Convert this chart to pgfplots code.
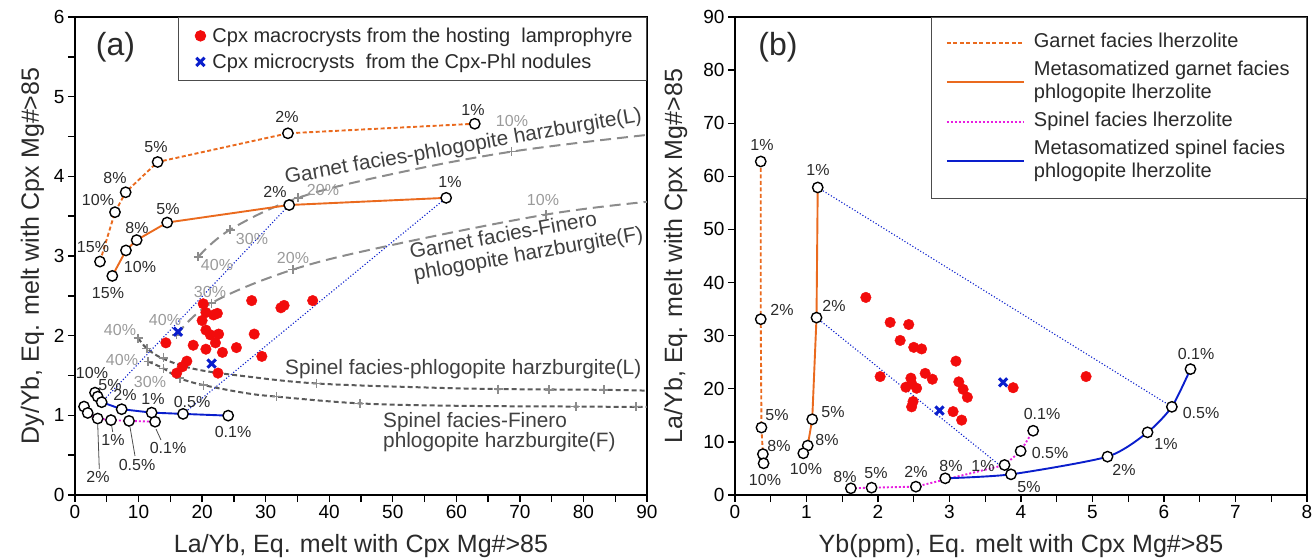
\documentclass[border=0pt]{standalone}
\usepackage{pgfplots}
\pgfplotsset{compat=1.18}
\usepackage{fontspec}
\setmainfont{Liberation Sans}
\definecolor{orng}{HTML}{EA6A1E}
\definecolor{magn}{HTML}{E81EE0}
\definecolor{blu}{HTML}{0A1ECC}
\definecolor{grayA}{HTML}{8C8C8C}
\definecolor{grayB}{HTML}{5A5A5A}
\definecolor{grayT}{HTML}{9A9A9A}
\definecolor{txt}{HTML}{2A2A2A}
\definecolor{red1}{HTML}{F20C0C}
\newcommand\fsT{\fontsize{19bp}{22bp}\selectfont}
\newcommand\fsL{\fontsize{25bp}{28bp}\selectfont}
\newcommand\fsM{\fontsize{20bp}{23bp}\selectfont}
\newcommand\fsC{\fontsize{20.8bp}{23bp}\selectfont}
\newcommand\fsP{\fontsize{16bp}{18bp}\selectfont}
\newcommand\fsH{\fontsize{32bp}{36bp}\selectfont}
\newcommand\tl[1]{\begin{tabular}{@{}l@{}}#1\end{tabular}}
\pgfplotsset{
  oc/.style={mark=*, mark size=5.2bp, mark options={solid, fill=white, draw=black, line width=1.4bp}},
  gp/.style={only marks, mark=+, mark size=4.5bp, mark options={grayA, line width=1.6bp}, forget plot},
  limk/.style={legend image code/.code={\path[draw=none, fill=none] (0bp,-3bp) rectangle (20bp,3bp); \draw[##1] plot coordinates {(10bp,0bp)};}},
  common/.style={scale only axis, width=572bp, height=478bp, anchor=south west,
    tick pos=left, tick align=outside, major tick length=7bp, minor tick length=7bp,
    every tick/.style={black, line width=1.4bp},
    axis line style={black, line width=1.5bp},
    ticklabel style={font=\fsT, text=black},
    /pgf/number format/assume math mode=true,
    label style={font=\fsL, text=txt},
    xlabel style={at={(axis description cs:0.5,0)}, anchor=base, yshift=-57bp},
  },
}
\begin{document}
\begin{tikzpicture}
\useasboundingbox (0,0) rectangle (1312bp,558bp);
% ---------------- panel (a)
\begin{axis}[common, at={(75bp,63bp)},
  xmin=0,xmax=90,ymin=0,ymax=6,
  xtick={0,10,...,90}, minor xtick={5,15,...,85},
  ytick={0,1,...,6}, minor ytick={0.5,1.5,...,5.5},
  xlabel={La/Yb, Eq. melt with Cpx Mg\#>85},
  ylabel={Dy/Yb, Eq. melt with Cpx Mg\#>85},
  ylabel style={at={(axis description cs:-0.063,0.5)}, anchor=base},
  legend style={at={(1,1)}, anchor=north east, draw=black!70, line width=0.8bp,
    font=\fsM, text=txt, inner xsep=12bp, inner ysep=8.5bp, row sep=6bp, cells={anchor=west}},
  legend cell align=left,
]
% gray model curves
\addplot[grayA, line width=2bp, dash pattern=on 11bp off 6bp, smooth, tension=0.6, forget plot] coordinates {(19.4,2.99) (24.4,3.33) (35.1,3.73) (50,4.03) (68.7,4.31) (90,4.52)};
\addplot[gp] coordinates {(19.4,2.99) (24.4,3.33) (35.1,3.73) (68.7,4.31)};
\addplot[grayA, line width=2bp, dash pattern=on 11bp off 6bp, smooth, tension=0.6, forget plot] coordinates {(16.0,2.01) (21.5,2.41) (34.3,2.83) (50,3.14) (74.1,3.52) (90,3.68)};
\addplot[gp] coordinates {(16.0,2.01) (21.5,2.41) (34.3,2.83) (74.1,3.52)};
\addplot[grayB, line width=2bp, dash pattern=on 5bp off 3bp, smooth, tension=0.6, forget plot] coordinates {(9.95,1.97) (11.3,1.84) (13.9,1.71) (18.9,1.58) (26.8,1.49) (38,1.40) (55,1.35) (66.6,1.33) (83.2,1.32) (90,1.31)};
\addplot[gp] coordinates {(9.95,1.97) (11.3,1.84) (13.9,1.72) (38,1.40) (66.6,1.33) (74.6,1.32) (83.2,1.32)};
\addplot[grayB, line width=2bp, dash pattern=on 5bp off 3bp, smooth, tension=0.6, forget plot] coordinates {(11.5,1.675) (13.9,1.59) (16.5,1.465) (20.2,1.38) (26.8,1.28) (31.7,1.235) (44.8,1.15) (60,1.12) (78.8,1.11) (90,1.105)};
\addplot[gp] coordinates {(11.5,1.675) (13.9,1.59) (16.5,1.465) (20.2,1.38) (31.7,1.235) (44.8,1.15) (78.8,1.11) (88.3,1.11)};
% mixing lines
\addplot[blu, line width=1.1bp, dotted, forget plot] coordinates {(4.2,1.165) (33.7,3.64)};
\addplot[blu, line width=1.1bp, dotted, forget plot] coordinates {(17.0,1.018) (58.4,3.73)};
% melting curves
\addplot[orng, line width=1.9bp, dash pattern=on 4bp off 2.5bp, oc, forget plot] coordinates {(3.93,2.93) (6.29,3.55) (7.97,3.80) (13.0,4.18) (33.5,4.54) (62.9,4.66)};
\addplot[orng, line width=1.9bp, oc, forget plot] coordinates {(5.87,2.75) (8.02,3.07) (9.7,3.20) (14.5,3.42) (33.7,3.64) (58.4,3.73)};
\addplot[magn, line width=1.9bp, dash pattern=on 2bp off 2bp, oc, forget plot] coordinates {(1.42,1.11) (2.0,1.03) (3.57,0.96) (5.66,0.94) (8.5,0.93) (12.6,0.92)};
\addplot[blu, line width=1.9bp, oc, forget plot] coordinates {(3.15,1.285) (3.57,1.235) (4.2,1.165) (7.34,1.077) (12.06,1.034) (17.0,1.018) (24.1,0.996)};
% samples
\addplot[only marks, mark=*, mark size=5.3bp, color=red1, limk] coordinates {
(20.18,2.40) (27.8,2.44) (32.4,2.35) (32.9,2.38) (37.4,2.44) (20.6,2.29) (21.8,2.26) (22.4,2.28)
(20.0,2.19) (20.6,2.07) (21.3,2.01) (22.6,2.02) (22.1,1.91) (28.2,2.02) (14.3,1.91) (18.6,1.88)
(20.6,1.83) (23.2,1.79) (25.4,1.85) (29.4,1.74) (17.6,1.68) (16.9,1.61) (16.0,1.53) (22.5,1.53)};
\addlegendentry{Cpx macrocrysts from the hosting~ lamprophyre}
\addplot[only marks, mark=x, mark size=5.8bp, color=blu, mark options={line width=3bp}, limk] coordinates {(16.2,2.05) (21.5,1.65)};
\addlegendentry{Cpx microcrysts~ from the Cpx-Phl nodules}
\end{axis}
% ---------------- panel (b)
\begin{axis}[common, at={(735bp,63bp)},
  xmin=0,xmax=8,ymin=0,ymax=90,
  xtick={0,1,...,8}, minor xtick={0.5,1.5,...,7.5},
  ytick={0,10,...,90},
  xlabel={Yb(ppm), Eq. melt with Cpx Mg\#>85},
  ylabel={La/Yb, Eq. melt with Cpx Mg\#>85},
  ylabel style={at={(axis description cs:-0.0925,0.5)}, anchor=base},
  legend style={at={(1,1)}, anchor=north east, draw=black!70, line width=0.8bp,
    font=\fsM, text=txt, inner xsep=15bp, inner ysep=12bp, row sep=1bp, cells={anchor=west},
    nodes={inner sep=2bp, text depth=}},
  legend cell align=left,
  legend image code/.code={\path[draw=none] (0bp,0bp) -- (85bp,0bp); \draw[#1] (0bp,0bp) -- (77bp,0bp);},
]
\addplot[blu, line width=1.1bp, dotted, forget plot] coordinates {(1.157,57.9) (6.11,16.6)};
\addplot[blu, line width=1.1bp, dotted, forget plot] coordinates {(1.14,33.4) (3.86,3.89)};
\addplot[orng, line width=1.9bp, dash pattern=on 4bp off 2.5bp, oc, forget plot] coordinates {(0.36,62.8) (0.36,33.1) (0.37,12.7) (0.39,7.7) (0.40,5.96)};
\addplot[orng, line width=1.9bp, oc, forget plot] coordinates {(1.157,57.9) (1.14,33.4) (1.08,14.25) (1.017,9.3) (0.955,7.85)};
\addplot[magn, line width=1.9bp, dash pattern=on 2bp off 2bp, oc, forget plot] coordinates {(1.62,1.26) (1.91,1.38) (2.53,1.57) (3.77,5.65) (3.995,8.28) (4.17,12.1)};
\addplot[blu, line width=1.9bp, oc, smooth, tension=0.4, forget plot] coordinates {(2.94,3.14) (3.86,3.89) (5.21,7.22) (5.77,11.8) (6.11,16.6) (6.37,23.7)};
\addplot[only marks, mark=*, mark size=5.3bp, color=red1, forget plot] coordinates {
(1.83,37.2) (2.17,32.5) (2.43,32.1) (2.31,29.1) (2.50,27.8) (2.61,27.5) (3.09,25.2) (2.03,22.3)
(2.66,22.9) (2.76,21.8) (2.46,22.0) (3.13,21.3) (2.39,20.3) (2.47,21.0) (2.54,20.1) (3.19,19.9)
(3.25,18.4) (2.49,17.6) (2.47,16.6) (3.05,15.7) (3.17,14.1) (3.89,20.2) (4.91,22.3)};
\addplot[only marks, mark=x, mark size=5.8bp, color=blu, mark options={line width=3bp}, forget plot] coordinates {(2.86,15.9) (3.75,21.2)};
\addlegendimage{orng, line width=1.9bp, dash pattern=on 4bp off 2.5bp}
\addlegendentry{\tl{Garnet facies lherzolite}}
\addlegendimage{orng, line width=1.9bp}
\addlegendentry{\tl{Metasomatized garnet facies\\phlogopite lherzolite}}
\addlegendimage{magn, line width=1.9bp, dash pattern=on 2bp off 2bp}
\addlegendentry{\tl{Spinel facies lherzolite}}
\addlegendimage{blu, line width=1.9bp}
\addlegendentry{\tl{Metasomatized spinel facies\\phlogopite lherzolite}}
\end{axis}
% ---------------- annotations (pixel coordinates)
\begin{scope}[x=1bp, y=-1bp, shift={(0,558bp)}]
\tikzset{pl/.style={font=\fsP, text=txt, inner sep=0pt}, gl/.style={font=\fsP, text=grayT, inner sep=0pt},
  cl/.style={font=\fsC, text=black!75, inner sep=0pt}}
\node[font=\fsH, text=txt] at (115.5,47) {(a)};
\node[font=\fsH, text=txt] at (778,47) {(b)};
% garnet lherzolite (a)
\node[pl] at (93,247) {15\%}; \node[pl] at (98,200) {10\%}; \node[pl] at (115,178) {8\%};
\node[pl] at (156,147) {5\%}; \node[pl] at (287,117) {2\%}; \node[pl] at (473,110) {1\%};
% metasomatized garnet (a)
\node[pl] at (108,293) {15\%}; \node[pl] at (140,267) {10\%}; \node[pl] at (137,228) {8\%};
\node[pl] at (168,209) {5\%}; \node[pl] at (275,192) {2\%}; \node[pl] at (450,182) {1\%};
% spinel (a)
\node[pl] at (92,373) {10\%}; \node[pl] at (110,385) {5\%}; \node[pl] at (125,395) {2\%};
\node[pl] at (153,399) {1\%}; \node[pl] at (192,402) {0.5\%}; \node[pl] at (233,432) {0.1\%};
\node[pl] at (113,440) {1\%}; \node[pl] at (137,465) {0.5\%}; \node[pl] at (168,448) {0.1\%};
\node[pl] at (98,477) {2\%};
\draw[black!70, line width=0.8bp] (97.7,424) -- (99.3,469) (111.7,426) -- (112.7,432) (130,427) -- (135,456) (156,429) -- (161,440);
% gray labels (a)
\node[gl] at (512,121) {10\%}; \node[gl] at (323,190) {20\%}; \node[gl] at (252,239) {30\%}; \node[gl] at (217,265) {40\%};
\node[gl] at (543,200) {10\%}; \node[gl] at (293,258) {20\%}; \node[gl] at (210,292) {30\%}; \node[gl] at (165,320) {40\%};
\node[gl] at (120,330) {40\%}; \node[gl] at (122,360) {40\%}; \node[gl] at (150,382) {30\%};
\node[cl, anchor=base west, rotate=10] at (286,184) {Garnet facies-phlogopite harzburgite(L)};
\node[cl, anchor=base west, rotate=10.2] at (411,259) {Garnet facies-Finero};
\node[cl, anchor=base west, rotate=10.2] at (415,281) {phlogopite harzburgite(F)};
\node[cl, anchor=base west] at (285,375) {Spinel facies-phlogopite harzburgite(L)};
\node[cl, anchor=base west] at (383,428) {Spinel facies-Finero};
\node[cl, anchor=base west] at (383,448) {phlogopite harzburgite(F)};
% panel (b) labels
\node[pl] at (762,145) {1\%}; \node[pl] at (782,310) {2\%}; \node[pl] at (777,415) {5\%};
\node[pl] at (779,446) {8\%}; \node[pl] at (765,480) {10\%};
\node[pl] at (818,170) {1\%}; \node[pl] at (834,306) {2\%}; \node[pl] at (833,412) {5\%};
\node[pl] at (827,440) {8\%}; \node[pl] at (806,469) {10\%};
\node[pl] at (845,477) {8\%}; \node[pl] at (876,473) {5\%}; \node[pl] at (916,472) {2\%};
\node[pl] at (983,466) {1\%}; \node[pl] at (1050,453) {0.5\%}; \node[pl] at (1042,414) {0.1\%};
\node[pl] at (951,466) {8\%}; \node[pl] at (1029,487) {5\%}; \node[pl] at (1124,470) {2\%};
\node[pl] at (1166,444) {1\%}; \node[pl] at (1201,413) {0.5\%}; \node[pl] at (1196,354) {0.1\%};
\end{scope}
\end{tikzpicture}
\end{document}
